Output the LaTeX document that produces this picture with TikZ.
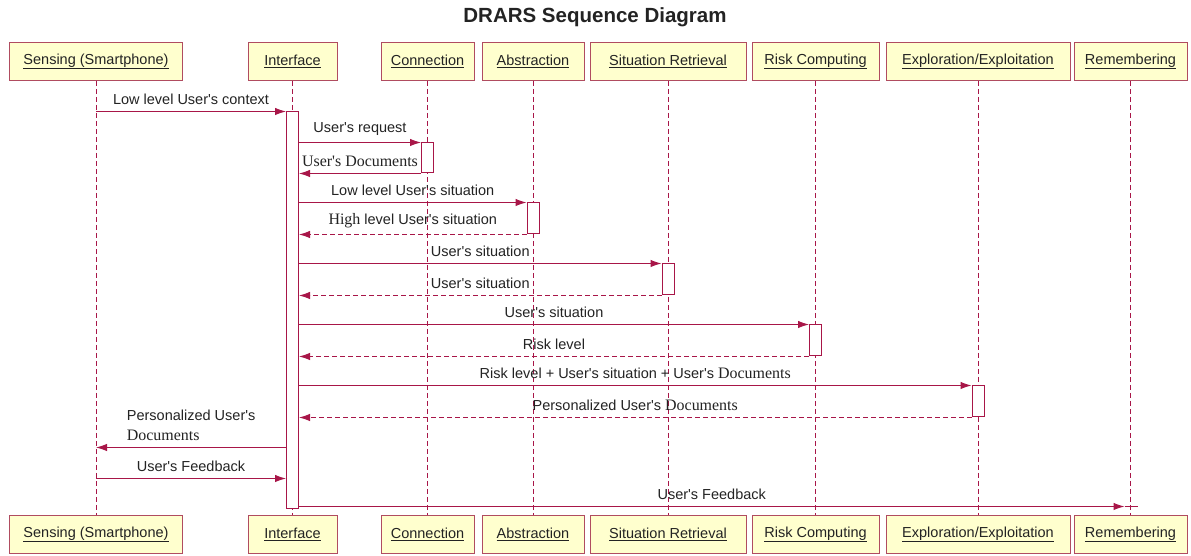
\documentclass[tikz,border=0pt]{standalone}
\usepackage{fontspec}
\setmainfont{Liberation Sans}[Ligatures=TeXOff]
\newfontfamily\docfont{Liberation Serif}[Ligatures=TeXOff,Scale=1.1]
\usetikzlibrary{arrows.meta}

\begin{document}
\begin{tikzpicture}[x=1pt,y=1pt,
  every node/.style={text=textColor,font=\fontsize{14.5}{20}\selectfont},
  lifebox/.style={draw=boxColor,fill=boxFill,line width=1pt,minimum height=38pt,inner sep=0pt},
  lifeline/.style={draw=lineColor,line width=0.8pt,dash pattern=on 5pt off 3pt},
  actbar/.style={draw=lineColor,fill=white,line width=1pt,minimum width=12pt,inner sep=0pt},
  callmsg/.style={draw=lineColor,line width=1pt,-{Latex[length=11pt,width=7.5pt]}},
  retmsg/.style={callmsg,dash pattern=on 5pt off 3pt},
  msglabel/.style={above=6.5pt,inner sep=0pt}]
\definecolor{lineColor}{RGB}{168,22,72}
\definecolor{boxColor}{RGB}{176,76,96}
\definecolor{boxFill}{RGB}{255,255,206}
\definecolor{textColor}{RGB}{35,35,35}
\path[use as bounding box,fill=white] (0,0) rectangle (1191,556);

\node[font=\bfseries\fontsize{20.5}{24}\selectfont] (title) at (595,539) {DRARS Sequence Diagram};

\node[lifebox,minimum width=173pt] (sensTop) at ( 96.0,494.5) {\underline{Sensing (Smartphone)}};
\node[lifebox,minimum width= 89pt] (ifTop)   at (292.5,494.5) {\underline{Interface}};
\node[lifebox,minimum width= 93pt] (connTop) at (427.5,494.5) {\underline{Connection}};
\node[lifebox,minimum width=102pt] (absTop)  at (533.0,494.5) {\underline{Abstraction}};
\node[lifebox,minimum width=156pt] (sitTop)  at (668.0,494.5) {\underline{Situation Retrieval}};
\node[lifebox,minimum width=127pt] (riskTop) at (815.5,494.5) {\underline{Risk Computing}};
\node[lifebox,minimum width=184pt] (explTop) at (978.0,494.5) {\underline{Exploration/Exploitation}};
\node[lifebox,minimum width=113pt] (remTop)  at (1130.5,494.5) {\underline{Remembering}};

\node[lifebox,minimum width=173pt] (sensBot) at ( 96.0, 21.5) {\underline{Sensing (Smartphone)}};
\node[lifebox,minimum width= 89pt] (ifBot)   at (292.5, 21.5) {\underline{Interface}};
\node[lifebox,minimum width= 93pt] (connBot) at (427.5, 21.5) {\underline{Connection}};
\node[lifebox,minimum width=102pt] (absBot)  at (533.0, 21.5) {\underline{Abstraction}};
\node[lifebox,minimum width=156pt] (sitBot)  at (668.0, 21.5) {\underline{Situation Retrieval}};
\node[lifebox,minimum width=127pt] (riskBot) at (815.5, 21.5) {\underline{Risk Computing}};
\node[lifebox,minimum width=184pt] (explBot) at (978.0, 21.5) {\underline{Exploration/Exploitation}};
\node[lifebox,minimum width=113pt] (remBot)  at (1130.5, 21.5) {\underline{Remembering}};

\draw[lifeline] (sensTop) -- (sensBot);
\draw[lifeline] (ifTop) -- (ifBot);
\draw[lifeline] (connTop) -- (connBot);
\draw[lifeline] (absTop) -- (absBot);
\draw[lifeline] (sitTop) -- (sitBot);
\draw[lifeline] (riskTop) -- (riskBot);
\draw[lifeline] (explTop) -- (explBot);
\draw[lifeline] (remTop) -- (remBot);

\node[actbar,minimum height=397pt] (ifBar)   at (292.5,245.5) {};
\node[actbar,minimum height= 30pt] (connBar) at (427.5,398.0) {};
\node[actbar,minimum height= 31pt] (absBar)  at (533.0,337.5) {};
\node[actbar,minimum height= 31pt] (sitBar)  at (668.0,276.5) {};
\node[actbar,minimum height= 31pt] (riskBar) at (815.5,215.5) {};
\node[actbar,minimum height= 31pt] (explBar) at (978.0,154.5) {};

\draw[callmsg] (sensTop |- ifBar.north) -- (ifBar.north west)
  node[msglabel,midway] {Low level User's context};

\draw[callmsg] (ifBar.east |- connBar.north) -- (connBar.north west)
  node[msglabel,midway] {User's request};
\draw[callmsg] (connBar.south west) -- (ifBar.east |- connBar.south)
  node[msglabel,midway] {\docfont User's Documents};

\draw[callmsg] (ifBar.east |- absBar.north) -- (absBar.north west)
  node[msglabel,midway] {Low level User's situation};
\draw[retmsg] (absBar.south west) -- (ifBar.east |- absBar.south)
  node[msglabel,midway] {{\docfont High} level User's situation};

\draw[callmsg] (ifBar.east |- sitBar.north) -- (sitBar.north west)
  node[msglabel,midway] {User's situation};
\draw[retmsg] (sitBar.south west) -- (ifBar.east |- sitBar.south)
  node[msglabel,midway] {User's situation};

\draw[callmsg] (ifBar.east |- riskBar.north) -- (riskBar.north west)
  node[msglabel,midway] {User's situation};
\draw[retmsg] (riskBar.south west) -- (ifBar.east |- riskBar.south)
  node[msglabel,midway] {Risk level};

\draw[callmsg] (ifBar.east |- explBar.north) -- (explBar.north west)
  node[msglabel,midway] {Risk level + User's situation + User's {\docfont Documents}};
\draw[retmsg] (explBar.south west) -- (ifBar.east |- explBar.south)
  node[msglabel,midway] {Personalized User's {\docfont Documents}};

\coordinate (persIf) at ([yshift=62pt]ifBar.south west);
\coordinate (persSens) at (sensTop |- persIf);
\draw[callmsg] (persIf) -- (persSens)
  node[pos=0.84,anchor=south west,align=left,inner sep=0pt,yshift=6pt] {Personalized User's\\{\docfont Documents}};

\coordinate (fbIf) at ([yshift=31pt]ifBar.south west);
\coordinate (fbSens) at (sensTop |- fbIf);
\draw[callmsg] (fbSens) -- (fbIf)
  node[msglabel,midway] {User's Feedback};

\coordinate (fbOut) at ([yshift=3pt]ifBar.south east);
\coordinate (fbRem) at (remTop |- fbOut);
\draw[callmsg] (fbOut) -- ([xshift=-6pt]fbRem)
  node[msglabel,midway] {User's Feedback};
\draw[draw=lineColor,line width=1pt] ([xshift=-6pt]fbRem) -- ([xshift=7pt]fbRem);
\end{tikzpicture}
\end{document}
